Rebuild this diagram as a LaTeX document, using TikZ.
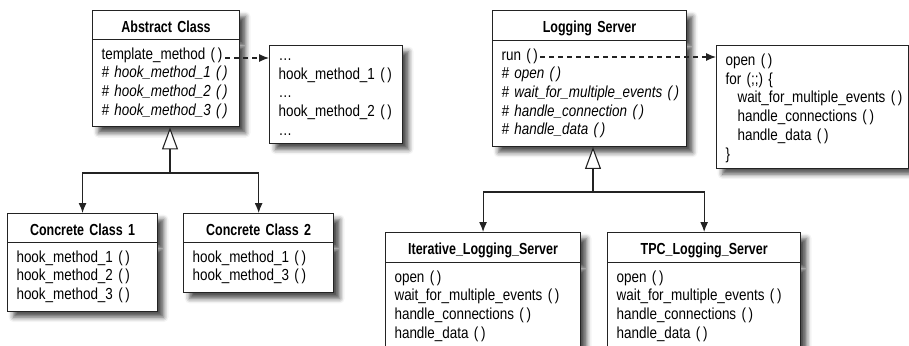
\documentclass[tikz,border=0pt]{standalone}
\usepackage{fontspec}
\setmainfont{Liberation Sans}[UprightFeatures={FakeStretch=0.84}, ItalicFeatures={FakeStretch=0.84}, BoldFeatures={FakeStretch=0.78}]
\usepackage{tikz}
\usetikzlibrary{shapes.multipart, arrows.meta, positioning, calc, shadows.blur}
\definecolor{boxline}{RGB}{35, 35, 35}
\newcommand{\topgap}[1]{\rule{0pt}{#1}}
\newcommand{\botgap}[1]{\rule[-#1]{0pt}{0pt}}

\tikzset{
  classbox/.style={rectangle split, rectangle split parts=2, draw=boxline, line width=1.1pt, fill=white, text width=#1, align=left, inner xsep=9pt, inner ysep=4.5pt, anchor=north west, blur shadow={shadow xshift=6pt, shadow yshift=-6pt, shadow blur radius=5pt, shadow opacity=70}},
  notebox/.style={rectangle, draw=boxline, line width=1.1pt, fill=white, text width=#1, align=left, inner xsep=9pt, inner ysep=2.5pt, anchor=north west, blur shadow={shadow xshift=6pt, shadow yshift=-6pt, shadow blur radius=5pt, shadow opacity=70}},
  link/.style={boxline, line width=1.1pt, -{Latex[length=10pt, width=8pt]}},
  calls/.style={boxline, line width=1.1pt, dash pattern=on 5pt off 4pt, -{Latex[length=10pt, width=8pt]}},
  inherits/.style={boxline, line width=1.1pt, -{Triangle[open, fill=white, length=22pt, width=16pt]}}
}

\begin{document}
\begin{tikzpicture}[x=1pt, y=-1pt, every node/.style={font=\fontsize{16pt}{18.7pt}\selectfont}]
\useasboundingbox (0,0) rectangle (909,345);
\clip (0,0) rectangle (909,345);

% template method side
\node[classbox=129pt] (abstract) at (92,10) {\makebox[\hsize]{\topgap{16.5pt}\textbf{Abstract Class}\botgap{2.5pt}}\nodepart{second}\topgap{14.5pt}template\_method~(\,)\\ \textit{\#~hook\_method\_1~(\,)}\\ \textit{\#~hook\_method\_2~(\,)}\\ \textit{\#~hook\_method\_3~(\,)}\botgap{6.5pt}};
\node[notebox=115pt] (hooks) at (269,45) {\topgap{12.5pt}\ldots\\ hook\_method\_1~(\,)\\ \ldots\\ hook\_method\_2~(\,)\\ \ldots\botgap{5.5pt}};
\node[classbox=132pt] (concrete1) at (7,213) {\makebox[\hsize]{\topgap{16.5pt}\textbf{Concrete Class 1}\botgap{2.5pt}}\nodepart{second}\topgap{14.5pt}hook\_method\_1~(\,)\\ hook\_method\_2~(\,)\\ hook\_method\_3~(\,)\botgap{6.5pt}};
\node[classbox=132pt, right=25pt of concrete1.north east, anchor=north west] (concrete2) {\makebox[\hsize]{\topgap{16.5pt}\textbf{Concrete Class 2}\botgap{2.5pt}}\nodepart{second}\topgap{14.5pt}hook\_method\_1~(\,)\\ hook\_method\_3~(\,)\botgap{6.5pt}};

% logging server side
\node[classbox=176pt] (logging) at (492,10) {\makebox[\hsize]{\topgap{16.5pt}\textbf{Logging Server}\botgap{2.5pt}}\nodepart{second}\topgap{14.5pt}run~(\,)\\ \textit{\#~open~(\,)}\\ \textit{\#~wait\_for\_multiple\_events~(\,)}\\ \textit{\#~handle\_connection~(\,)}\\ \textit{\#~handle\_data~(\,)}\botgap{6.5pt}};
\node[notebox=174pt, inner ysep=3pt] (runloop) at (716,45) {\topgap{17pt}open~(\,)\\ for~(;;)~\{\\ \hspace*{12pt}wait\_for\_multiple\_events~(\,)\\ \hspace*{12pt}handle\_connections~(\,)\\ \hspace*{12pt}handle\_data~(\,)\\ \}\botgap{6pt}};
\node[classbox=177pt] (iterative) at (385,232) {\makebox[\hsize]{\topgap{16.5pt}\textbf{Iterative\_Logging\_Server}\botgap{2.5pt}}\nodepart{second}\topgap{14.5pt}open~(\,)\\ wait\_for\_multiple\_events~(\,)\\ handle\_connections~(\,)\\ handle\_data~(\,)\botgap{6.5pt}};
\node[classbox=175pt, right=26pt of iterative.north east, anchor=north west] (tpc) {\makebox[\hsize]{\topgap{16.5pt}\textbf{TPC\_Logging\_Server}\botgap{2.5pt}}\nodepart{second}\topgap{14.5pt}open~(\,)\\ wait\_for\_multiple\_events~(\,)\\ handle\_connections~(\,)\\ handle\_data~(\,)\botgap{6.5pt}};

% connectors
\coordinate (tmend) at (225,58);
\coordinate (runend) at (540,57);
\coordinate (absjoin) at (170,173);
\coordinate (logjoin) at (593,192);

\draw[calls] (tmend) -- (tmend -| hooks.west);
\draw[calls] (runend) -- (runend -| runloop.west);
\draw[inherits] (absjoin) -- (absjoin |- abstract.south);
\draw[link] (absjoin) -| (concrete1.north);
\draw[link] (absjoin) -| (concrete2.north);
\draw[inherits] (logjoin) -- (logjoin |- logging.south);
\draw[link] (logjoin) -| (iterative.north);
\draw[link] (logjoin) -| (tpc.north);
\end{tikzpicture}
\end{document}
